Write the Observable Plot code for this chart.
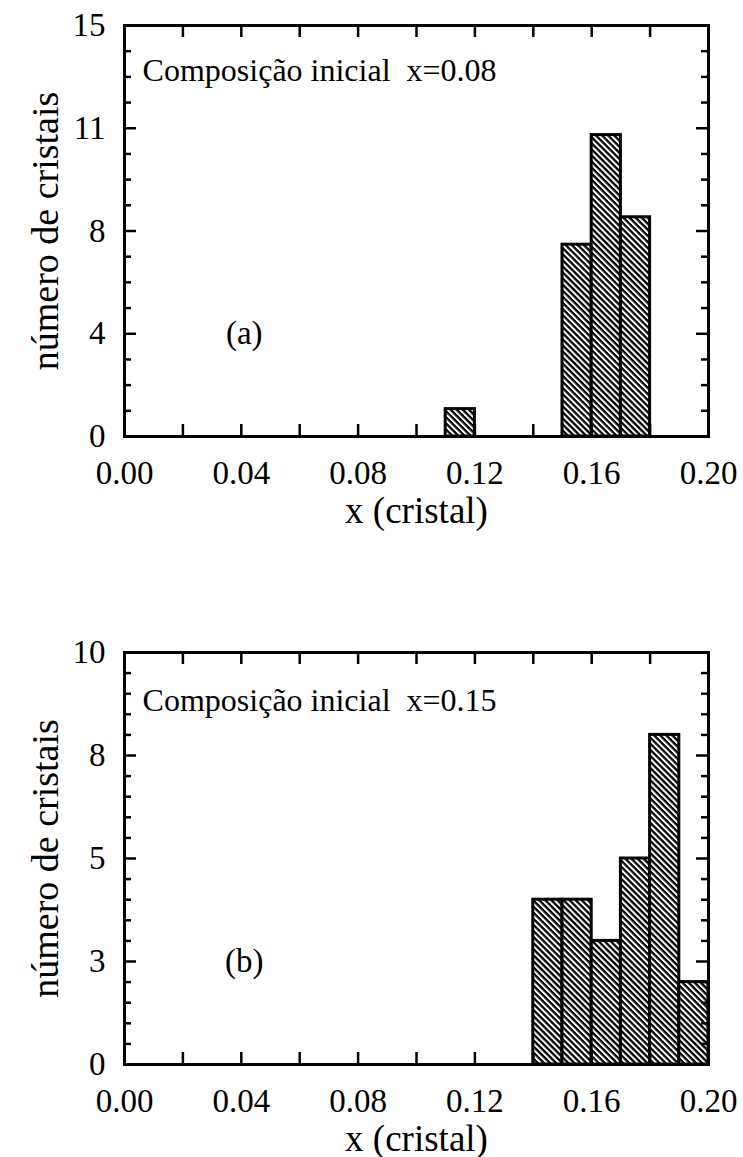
<!DOCTYPE html>
<html><head><meta charset="utf-8">
<script src="https://cdn.jsdelivr.net/npm/d3@7"></script>
<script src="https://cdn.jsdelivr.net/npm/@observablehq/plot@0.6"></script>
<style>
body{margin:0;background:#fff;}
#chart{width:743px;}
#chart svg{display:block;}
</style>
</head><body><div id="chart"></div>
<script>
// ---- data ----
const binLoA = [0.11, 0.15, 0.16, 0.17];
const binHiA = [0.12, 0.16, 0.17, 0.18];
const countA = [1, 7, 11, 8];
const binLoB = [0.14, 0.15, 0.16, 0.17, 0.18, 0.19];
const binHiB = [0.15, 0.16, 0.17, 0.18, 0.19, 0.20];
const countB = [4, 4, 3, 5, 8, 2];

const xTicks = [0, 0.02, 0.04, 0.06, 0.08, 0.10, 0.12, 0.14, 0.16, 0.18, 0.20];
const xLabelTicks = [0, 0.04, 0.08, 0.12, 0.16, 0.20];
const xTickLabels = ["0.00", "0.04", "0.08", "0.12", "0.16", "0.20"];

const yMajorA = [0, 3.75, 7.5, 11.25, 15];
const yTickLabelsA = ["0", "4", "8", "11", "15"];
const yMinorA = [0.9375, 1.875, 2.8125, 4.6875, 5.625, 6.5625, 8.4375, 9.375, 10.3125, 12.1875, 13.125, 14.0625];

const yMajorB = [0, 2.5, 5, 7.5, 10];
const yTickLabelsB = ["0", "3", "5", "8", "10"];
const yMinorB = [0.5, 1, 1.5, 2, 3, 3.5, 4, 4.5, 5.5, 6, 6.5, 7, 8, 8.5, 9, 9.5];

const xTitle = "x (cristal)";
const yTitle = "número de cristais";
const notes = ["Composição inicial\u00a0\u00a0x=0.08", "Composição inicial\u00a0\u00a0x=0.15"];
const tags = ["(a)", "(b)"];

// ---- drawing ----
const W = 743, ML = 124, MR = 35;
const font = "'Liberation Serif', 'Times New Roman', serif";

function panel(cfg) {
  const data = cfg.lo.map((lo, i) => ({lo, hi: cfg.hi[i], n: cfg.count[i]}));
  const plotW = W - ML - MR;
  const plotH = cfg.height - cfg.mt - cfg.mb;
  const xMap = new Map(xLabelTicks.map((t, i) => [t, xTickLabels[i]]));
  const yMap = new Map(cfg.yMajor.map((t, i) => [t, cfg.yLabels[i]]));
  const maj = 12, mnr = 7, tw = 2.5;
  const svg = Plot.plot({
    width: W, height: cfg.height,
    marginLeft: ML, marginRight: MR, marginTop: cfg.mt, marginBottom: cfg.mb,
    style: {fontFamily: font, background: "white", color: "black", overflow: "visible"},
    x: {domain: [0, 0.2]},
    y: {domain: [0, cfg.yMax]},
    marks: [
      Plot.rect(data, {x1: "lo", x2: "hi", y1: 0, y2: "n", fill: `url(#${cfg.id})`, stroke: "black", strokeWidth: 3}),
      // inward ticks
      Plot.tickX(xTicks, {x: d => d, insetTop: plotH - maj, stroke: "black", strokeWidth: tw}),
      Plot.tickX(xTicks, {x: d => d, insetBottom: plotH - maj, stroke: "black", strokeWidth: tw}),
      Plot.tickY(cfg.yMajor, {y: d => d, insetRight: plotW - maj, stroke: "black", strokeWidth: tw}),
      Plot.tickY(cfg.yMinor, {y: d => d, insetRight: plotW - mnr, stroke: "black", strokeWidth: tw}),
      Plot.tickY(cfg.yMajor, {y: d => d, insetLeft: plotW - maj, stroke: "black", strokeWidth: tw}),
      Plot.tickY(cfg.yMinor, {y: d => d, insetLeft: plotW - mnr, stroke: "black", strokeWidth: tw}),
      Plot.frame({stroke: "black", strokeWidth: 3}),
      // tick labels
      Plot.axisX(xLabelTicks, {tickSize: 0, tickPadding: 24, tickFormat: d => xMap.get(d), fontSize: 33, label: null}),
      Plot.axisY(cfg.yMajor, {tickSize: 0, tickPadding: 19, tickFormat: d => yMap.get(d), fontSize: 33, label: null}),
      // titles
      Plot.text([xTitle], {frameAnchor: "bottom", dy: 75, fontSize: 37, lineAnchor: "middle"}),
      Plot.text([yTitle], {frameAnchor: "left", dx: -67, rotate: -90, fontSize: 38, lineAnchor: "bottom", textAnchor: "middle"}),
      // annotations
      Plot.text([cfg.note], {x: 0.0062, y: cfg.noteY, textAnchor: "start", lineAnchor: "middle", fontSize: 32}),
      Plot.text([cfg.tag], {x: 0.041, y: cfg.tagY, textAnchor: "middle", lineAnchor: "middle", fontSize: 33})
    ]
  });
  const ns = "http://www.w3.org/2000/svg";
  const defs = document.createElementNS(ns, "defs");
  defs.innerHTML = `<pattern id="${cfg.id}" patternUnits="userSpaceOnUse" width="4.3" height="4.3" patternTransform="rotate(45)"><rect width="4.3" height="4.3" fill="white"/><rect width="4.3" height="2.3" fill="black"/></pattern>`;
  svg.insertBefore(defs, svg.firstChild);
  return svg;
}

const chart = document.getElementById("chart");
chart.appendChild(panel({
  id: "hatchA", lo: binLoA, hi: binHiA, count: countA, yMax: 15,
  yMajor: yMajorA, yLabels: yTickLabelsA, yMinor: yMinorA,
  height: 560, mt: 25, mb: 124, note: notes[0], noteY: 13.36, tag: tags[0], tagY: 3.75
}));
chart.appendChild(panel({
  id: "hatchB", lo: binLoB, hi: binHiB, count: countB, yMax: 10,
  yMajor: yMajorB, yLabels: yTickLabelsB, yMinor: yMinorB,
  height: 597, mt: 92, mb: 93, note: notes[1], noteY: 8.83, tag: tags[1], tagY: 2.5
}));
</script>
</body></html>
